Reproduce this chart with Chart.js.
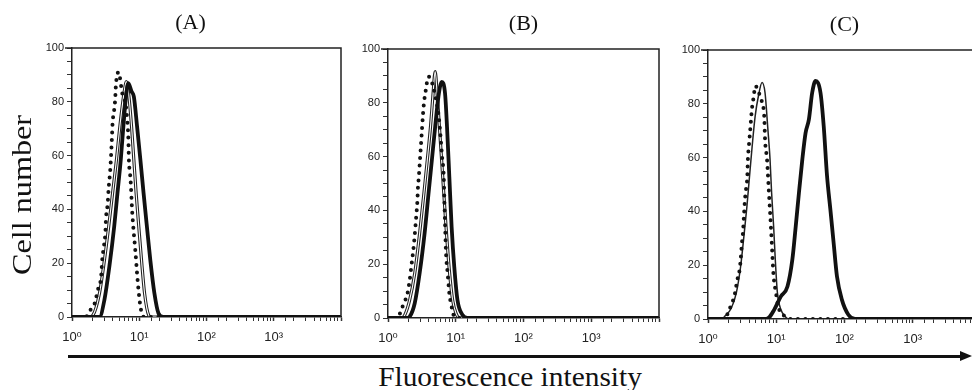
<!DOCTYPE html>
<html>
<head>
<meta charset="utf-8">
<script src="https://cdn.jsdelivr.net/npm/chart.js@4.4.1/dist/chart.umd.min.js"></script>
<style>
  body { margin: 0; width: 972px; height: 390px; overflow: hidden; background: #fff; position: relative; }
  canvas { position: absolute; }
  #arrow { position: absolute; left: 68px; top: 355px; width: 893px; height: 3px; background: #111; }
  #arrow:after { content: ""; position: absolute; right: -11px; top: -4px; border-left: 12px solid #111;
                 border-top: 5.5px solid transparent; border-bottom: 5.5px solid transparent; }
  #xlabel { position: absolute; left: 310px; width: 400px; top: 363px; text-align: center;
            font: 28px/28px "Liberation Serif", "Times New Roman", serif; color: #111; transform: scaleX(1.05); }
</style>
</head>
<body>
<canvas id="chartA" width="350" height="350" style="left:0px;top:0px"></canvas>
<canvas id="chartB" width="320" height="350" style="left:348px;top:1px"></canvas>
<canvas id="chartC" width="322" height="350" style="left:668px;top:2px"></canvas>
<div id="arrow"></div>
<div id="xlabel">Fluorescence intensity</div>

<script>
// panel labels and tick labels
const panelTags = ['(A)', '(B)', '(C)'];
const yTitle = 'Cell number';
const xTickLabels = ['10⁰', '10¹', '10²', '10³'];

// [fluorescence intensity, cell number]
// panel A
const aDotted = [[1,0],[1.5,0],[1.73,0.7],[1.94,3.3],[2.17,5],[2.42,10],[2.71,15],[2.81,21],[2.93,25],[3.13,31],
  [3.21,37],[3.39,42],[3.51,48],[3.71,55],[3.93,67],[4.01,72],[4.24,77],[4.39,81],[4.49,86],[4.91,91],[5.61,83],
  [6.28,79],[6.64,73],[6.87,67],[7.03,58],[7.43,51],[7.86,39],[8.31,31],[8.79,24],[9.29,16],[9.84,9],[10.4,4],
  [11,1],[12,0],[10000,0]];
const aThin = [[1,0],[1.8,0],[2.05,0.7],[2.56,8.8],[3.03,21],[3.51,33.6],[4.01,46],[4.58,58.4],[5.14,70.7],[5.74,80.7],
  [6.28,86.9],[6.42,87.5],[7.03,81.9],[7.69,70.7],[8.31,58.4],[8.99,46],[9.84,33.6],[10.8,21.2],[12.0,8.8],[13.8,0.7],
  [15,0],[10000,0]];
const aThick = [[1,0],[2.56,0],[3.03,6.3],[3.59,18.7],[4.24,33.6],[4.74,46],[5.31,58.4],[5.8,70.7],[6.28,80.7],
  [6.87,86.9],[7.69,83.8],[8.31,81.9],[9.29,70.7],[10.4,58.4],[11.6,46],[13.0,33.6],[14.6,21.2],[16.8,8.8],[19.3,1.4],
  [22.8,0],[10000,0]];

// panel B
const bDotted = [[1,0],[1.4,0],[1.5,1.7],[1.67,4.8],[1.94,9.2],[2.09,14.1],[2.27,21.6],[2.42,27.8],[2.62,38.3],
  [2.71,43.2],[2.77,48.8],[2.84,51.9],[2.93,56.9],[3.1,66.2],[3.28,75.5],[3.39,79.8],[3.55,83.5],[3.97,89.7],[5.14,81],
  [5.61,74.8],[5.94,68],[6.28,60],[6.65,52.5],[6.79,43.9],[6.95,35.2],[7.19,24],[7.6,16.6],[8.04,9.2],[8.69,4.2],
  [9.51,0.5],[10.5,0],[10000,0]];
const bThin = [[1,0],[1.6,0],[1.77,1.1],[2.09,6.7],[2.48,16.6],[2.93,31.5],[3.39,46.4],[3.8,58.7],[4.24,71.1],
  [4.59,82.3],[4.97,91.6],[5.31,83.5],[5.74,71.1],[6.42,52.5],[7.19,33.9],[8.04,17.8],[8.99,6.7],[10.1,1.7],[11.5,0],
  [10000,0]];
const bThick = [[1,0],[1.9,0],[2.09,0.5],[2.48,5.5],[2.93,16.6],[3.47,31.5],[3.97,46.4],[4.44,58.7],[4.97,71.1],
  [5.55,82.3],[6.21,87.8],[6.95,83.5],[7.43,71.1],[8.04,52.5],[8.69,33.9],[9.51,19],[10.6,6.7],[12.6,1.1],[14.9,0],
  [10000,0]];

// panel C
const cDotted = [[1,0],[1.8,0],[1.97,2.5],[2.2,5.3],[2.46,9],[2.69,14.6],[2.91,18.4],[3.01,22],[3.14,28.3],[3.25,32],
  [3.36,38.2],[3.44,42.6],[3.55,46.9],[3.76,52.5],[3.84,59.3],[3.97,64.3],[4.2,71.7],[4.39,77.9],[4.69,82.9],
  [4.91,86.6],[6.0,81.6],[6.54,77.9],[6.7,74.2],[6.85,66.8],[7.33,59.3],[7.48,55.6],[7.92,44.4],[8.19,38.2],
  [8.55,29.5],[8.85,22],[9.15,15.9],[9.91,9.7],[10.7,4.7],[11.7,2.2],[13.8,1],[16,0],[10000,0]];
const cThin = [[1,0],[1.6,0],[1.76,1],[2.2,4.1],[2.6,9.7],[3.01,19.6],[3.36,30.8],[3.72,41.9],[4.06,53.1],[4.44,64.3],
  [4.91,75.4],[5.48,82.9],[6.2,87.9],[6.85,84.1],[7.48,71.7],[8.11,59.3],[8.55,46.9],[9.15,34.5],[9.68,22.1],
  [10.4,9.7],[11.7,3.5],[13.4,1],[15,0],[10000,0]];
const cThick = [[1,0],[7,0],[8,0.8],[9.35,3.5],[11.7,8.4],[14.6,12.1],[17.2,22],[19.3,34.5],[21.5,46.9],[24.1,59.3],
  [26.9,69.2],[30.1,74.2],[33.6,84.1],[37.6,88.5],[44.5,84.1],[49.6,71.7],[55.5,53.1],[62.1,40.7],[69.3,28.3],
  [77.5,15.9],[91.5,7.2],[114,1.6],[143,0],[10000,0]];

const INK = '#111';
const tickFont = '"Liberation Sans", "DejaVu Sans", sans-serif';
const toPts = arr => arr.map(p => ({x: p[0], y: p[1]}));

// box lines on top / right, panel tag, y title
const panelDecor = {
  id: 'panelDecor',
  afterDraw(chart, args, opts) {
    const {ctx, chartArea: a} = chart;
    ctx.save();
    ctx.strokeStyle = '#222';
    ctx.lineWidth = 1.5;
    ctx.beginPath();
    ctx.moveTo(a.left - 7, a.top);
    ctx.lineTo(a.right, a.top);
    ctx.lineTo(a.right, a.bottom);
    ctx.stroke();

    ctx.fillStyle = INK;
    ctx.font = '22px "Liberation Serif", "Times New Roman", serif';
    ctx.textAlign = 'center';
    ctx.textBaseline = 'middle';
    ctx.fillText(opts.tag, (a.left + a.right) / 2 + (opts.dx || 0), 23);

    if (opts.yTitle) {
      ctx.translate(24, 195);
      ctx.rotate(-Math.PI / 2);
      ctx.scale(1.15, 1);
      ctx.font = '28px "Liberation Serif", "Times New Roman", serif';
      ctx.fillText(opts.yTitle, 0, 0);
    }
    ctx.restore();
  }
};

function makePanel(id, tag, dotted, thin, thick, opt) {
  const datasets = [
    {data: toPts(thick), borderColor: INK, borderWidth: 3.8, order: 1},
    {data: toPts(dotted), borderColor: INK, borderWidth: 4, borderDash: [0, 7.5], borderCapStyle: 'round', order: 2}
  ];
  if (opt.hollow) {
    datasets.push({data: toPts(thin), borderColor: '#fff', borderWidth: 1.1, order: 3});
    datasets.push({data: toPts(thin), borderColor: '#222', borderWidth: 3.2, order: 4});
  } else {
    datasets.push({data: toPts(thin), borderColor: '#222', borderWidth: 1.5, order: 3});
  }
  datasets.forEach(d => { d.pointRadius = 0; d.tension = 0.4; d.cubicInterpolationMode = 'monotone'; d.fill = false; });

  return new Chart(document.getElementById(id), {
    type: 'line',
    data: {datasets},
    options: {
      responsive: false,
      animation: false,
      events: [],
      layout: {padding: {top: 48, right: 6, left: 0, bottom: 0}},
      plugins: {
        legend: {display: false},
        tooltip: {enabled: false},
        panelDecor: {tag, dx: opt.dx, yTitle: opt.yTitle}
      },
      scales: {
        x: {
          type: 'logarithmic',
          min: 1, max: 10000,
          afterFit(s) { s.height = 33; },
          border: {color: '#222', width: 1.5},
          grid: {drawOnChartArea: false, tickLength: 4, tickColor: '#333',
                 tickWidth: c => (c.tick && c.tick.major ? 1.5 : 1)},
          ticks: {
            autoSkip: false, maxRotation: 0, padding: 9, color: '#222',
            font: {family: tickFont, size: 13},
            callback(v) {
              const e = Math.log10(v);
              const r = Math.round(e);
              return (Math.abs(e - r) < 1e-6 && r < xTickLabels.length) ? xTickLabels[r] : '';
            }
          }
        },
        y: {
          min: 0, max: 100,
          afterFit(s) { s.width = opt.yWidth; },
          border: {color: '#222', width: 1.5},
          grid: {drawOnChartArea: false, tickLength: 5, tickColor: '#333'},
          ticks: {
            stepSize: 5, autoSkip: false, padding: 3, color: '#222',
            font: {family: tickFont, size: 11},
            callback: v => (v % 20 === 0 ? String(v) : '')
          }
        }
      }
    },
    plugins: [panelDecor]
  });
}

makePanel('chartA', panelTags[0], aDotted, aThin, aThick, {hollow: true, dx: -16, yWidth: 72, yTitle: yTitle});
makePanel('chartB', panelTags[1], bDotted, bThin, bThick, {hollow: true, dx: 0, yWidth: 40});
makePanel('chartC', panelTags[2], cDotted, cThin, cThick, {hollow: false, dx: 0, yWidth: 40});
</script>
</body>
</html>
